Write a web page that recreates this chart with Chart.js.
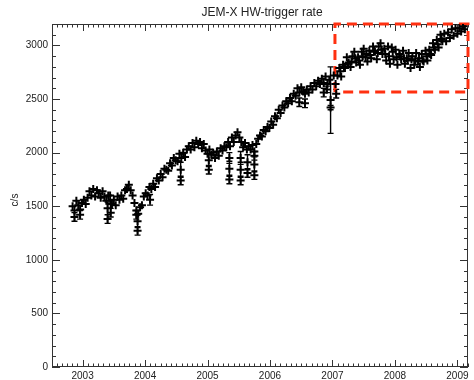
<!DOCTYPE html>
<html>
<head>
<meta charset="utf-8">
<script src="https://cdn.jsdelivr.net/npm/chart.js@4"></script>
<style>
  html, body { margin: 0; padding: 0; background: #fff; }
</style>
</head>
<body>
<canvas id="rateChart" width="474" height="380"></canvas>
<script>
// Time of each measurement (decimal years)
const years = [
  2002.84, 2002.87, 2002.90, 2002.93, 2002.96, 2002.99,
  2003.02, 2003.05, 2003.08, 2003.11, 2003.14, 2003.17, 2003.20, 2003.23, 2003.26, 2003.29, 2003.32,
  2003.35, 2003.38, 2003.41, 2003.44, 2003.47, 2003.50, 2003.53, 2003.56, 2003.59, 2003.62, 2003.65,
  2003.68, 2003.71, 2003.74, 2003.77, 2003.80, 2003.83, 2003.86, 2003.89, 2003.92, 2003.95, 2003.98,
  2004.01, 2004.04, 2004.07, 2004.10, 2004.13, 2004.16, 2004.19, 2004.22, 2004.25, 2004.28, 2004.31,
  2004.34, 2004.37, 2004.40, 2004.43, 2004.46, 2004.49, 2004.52, 2004.55, 2004.58, 2004.61, 2004.64,
  2004.67, 2004.70, 2004.73, 2004.76, 2004.79, 2004.82, 2004.85, 2004.88, 2004.91, 2004.94, 2004.97,
  2005.00, 2005.03, 2005.06, 2005.09, 2005.12, 2005.15, 2005.18, 2005.21, 2005.24, 2005.27, 2005.30,
  2005.33, 2005.36, 2005.39, 2005.42, 2005.45, 2005.48, 2005.51, 2005.54, 2005.57, 2005.60, 2005.63,
  2005.66, 2005.69, 2005.72, 2005.75, 2005.78, 2005.81, 2005.84, 2005.87, 2005.90, 2005.93, 2005.96, 2005.99,
  2006.02, 2006.05, 2006.08, 2006.11, 2006.14, 2006.17, 2006.20, 2006.23, 2006.26, 2006.29, 2006.32,
  2006.35, 2006.38, 2006.41, 2006.44, 2006.47, 2006.50, 2006.53, 2006.56, 2006.59, 2006.62, 2006.65,
  2006.68, 2006.71, 2006.74, 2006.77, 2006.80, 2006.83, 2006.86, 2006.89, 2006.92, 2006.95,
  2007.02, 2007.05, 2007.08, 2007.11, 2007.14, 2007.17, 2007.20, 2007.23, 2007.26, 2007.29, 2007.32,
  2007.35, 2007.38, 2007.41, 2007.44, 2007.47, 2007.50, 2007.53, 2007.56, 2007.59, 2007.62, 2007.65,
  2007.68, 2007.71, 2007.74, 2007.77, 2007.80, 2007.83, 2007.86, 2007.89, 2007.92, 2007.95, 2007.98,
  2008.01, 2008.04, 2008.07, 2008.10, 2008.13, 2008.16, 2008.19, 2008.22, 2008.25, 2008.28, 2008.31,
  2008.34, 2008.37, 2008.40, 2008.43, 2008.46, 2008.49, 2008.52, 2008.55, 2008.58, 2008.61, 2008.64,
  2008.67, 2008.70, 2008.73, 2008.76, 2008.79, 2008.82, 2008.85, 2008.88, 2008.91, 2008.94, 2008.97,
  2009.00, 2009.03, 2009.06, 2009.09, 2009.12,
  // denser coverage 2007-2008
  2007.125, 2007.185, 2007.245, 2007.305, 2007.365, 2007.425, 2007.485, 2007.545, 2007.605, 2007.665,
  2007.725, 2007.785, 2007.845, 2007.905, 2007.965, 2008.025, 2008.085, 2008.145, 2008.205, 2008.265,
  2008.325, 2008.385, 2008.445, 2008.505, 2008.565, 2008.625, 2008.685, 2008.745
];

// HW-trigger rate (c/s)
const rate = [
  1500, 1460, 1550, 1510, 1470, 1530,
  1560, 1520, 1580, 1640, 1600, 1660, 1590, 1650, 1620, 1580, 1640,
  1590, 1550, 1600, 1600, 1520, 1560, 1510, 1590, 1560, 1600, 1570,
  1650, 1660, 1700, 1650, 1600, 1530, 1460, 1430, 1490, 1510, 1590,
  1620, 1600, 1680, 1660, 1710, 1680, 1760, 1740, 1800, 1770, 1850,
  1840, 1830, 1900, 1880, 1950, 1930, 1920, 1990, 1950, 2000, 1960,
  2030, 2060, 2030, 2090, 2050, 2110, 2080, 2100, 2040, 2080, 2020,
  1990, 2030, 1980, 2000, 1950, 2010, 1970, 2040, 2020, 2060, 2050,
  2100, 2060, 2140, 2100, 2160, 2190, 2140, 2100, 2050, 2090, 2030,
  2060, 2030, 2070, 2010, 2080, 2130, 2160, 2150, 2210, 2200, 2240, 2230,
  2290, 2260, 2340, 2320, 2400, 2370, 2440, 2420, 2480, 2460, 2510,
  2480, 2550, 2530, 2600, 2560, 2610, 2570, 2550, 2590, 2560, 2620,
  2590, 2650, 2620, 2670, 2640, 2690, 2650, 2710, 2640, 2680,
  2720, 2640, 2720, 2790, 2710, 2820, 2790, 2890, 2840, 2800, 2900,
  2940, 2840, 2890, 2820, 2940, 2970, 2890, 2850, 2950, 2880, 2990,
  2940, 2870, 2990, 3020, 2920, 2970, 2860, 2990, 2830, 2980, 2870,
  2960, 2820, 2920, 2870, 2950, 2830, 2880, 2930, 2790, 2900, 2820,
  2930, 2850, 2800, 2920, 2850, 2950, 2860, 2960, 2910, 3020, 2960,
  3050, 2980, 3100, 3040, 3110, 3040, 3120, 3070, 3150, 3090, 3160,
  3110, 3160, 3130, 3180, 3150,
  2760, 2800, 2830, 2850, 2880, 2860, 2900, 2920, 2910, 2950,
  2930, 2960, 2920, 2900, 2940, 2890, 2900, 2880, 2860, 2870,
  2860, 2880, 2860, 2900, 2920, 2980, 3010, 3060
];

// Low excursions and the bad point early 2007, drawn with their error bars
const dipYears = [
  2002.87, 2002.96, 2003.40, 2003.40, 2003.45, 2003.45, 2003.86, 2003.88, 2003.88,
  2004.08, 2004.57, 2004.57, 2005.02, 2005.02, 2005.35, 2005.35, 2005.35,
  2005.53, 2005.53, 2005.53, 2005.64, 2005.64, 2005.75, 2005.75, 2005.75,
  2006.47, 2006.56, 2006.86, 2006.91, 2006.97, 2006.97, 2007.06
];
const dipRate = [
  1400, 1420, 1380, 1480, 1440, 1520, 1420, 1270, 1360,
  1560, 1740, 1840, 1840, 1930, 1750, 1850, 1950,
  1740, 1840, 1950, 1810, 1910, 1790, 1890, 1970,
  2470, 2460, 2560, 2590, 2490, 2420, 2550
];
const dipErr = [
  40, 40, 40, 60, 40, 40, 40, 40, 60,
  50, 40, 70, 40, 60, 40, 70, 50,
  40, 70, 60, 40, 70, 40, 70, 40,
  40, 40, 40, 30, 310, 20, 40
];

// Tick labels
const yearTicks = [2003, 2004, 2005, 2006, 2007, 2008, 2009];
const rateTicks = [0, 500, 1000, 1500, 2000, 2500, 3000];

// Zoom box (years, c/s)
const boxYears = [2007.04, 2009.17];
const boxRates = [2565, 3200];

const FONT = 'Liberation Sans';
const INK = '#222';

// IDL-like frame: box on all four sides with inward ticks, plus title and y label
const idlFrame = {
  id: 'idlFrame',
  beforeDatasetsDraw(chart) {
    const { ctx, chartArea: a, scales: { x, y } } = chart;
    ctx.save();
    ctx.strokeStyle = '#333';
    ctx.lineWidth = 1;
    ctx.strokeRect(a.left + 0.5, a.top + 0.5, a.right - a.left - 1, a.bottom - a.top - 1);
    ctx.beginPath();
    // monthly minor ticks, yearly major ticks
    for (let yr = 2002; yr <= 2009; yr++) {
      for (let m = 0; m < 12; m++) {
        const v = yr + m / 12;
        if (v < x.min || v > x.max) continue;
        const px = Math.round(x.getPixelForValue(v)) + 0.5;
        const len = m === 0 ? 7 : 3.5;
        ctx.moveTo(px, a.bottom); ctx.lineTo(px, a.bottom - len);
        ctx.moveTo(px, a.top); ctx.lineTo(px, a.top + len);
      }
    }
    for (let v = 0; v <= y.max; v += 100) {
      const py = Math.round(y.getPixelForValue(v)) + 0.5;
      const len = v % 500 === 0 ? 8 : 4;
      ctx.moveTo(a.left, py); ctx.lineTo(a.left + len, py);
      ctx.moveTo(a.right, py); ctx.lineTo(a.right - len, py);
    }
    ctx.stroke();

    ctx.fillStyle = INK;
    ctx.textAlign = 'center';
    ctx.textBaseline = 'middle';
    ctx.font = `12px "${FONT}"`;
    ctx.fillText('JEM-X HW-trigger rate', (a.left + a.right) / 2 + 2, 13);
    ctx.font = `10px "${FONT}"`;
    ctx.translate(15, 200);
    ctx.rotate(-Math.PI / 2);
    ctx.fillText('c/s', 0, 0);
    ctx.restore();
  }
};

// vertical error bars with small caps for the low excursions
const errorBars = {
  id: 'errorBars',
  beforeDatasetsDraw(chart) {
    const { ctx, scales: { x, y } } = chart;
    ctx.save();
    ctx.strokeStyle = '#000';
    ctx.lineWidth = 1.4;
    ctx.beginPath();
    dipYears.forEach((t, i) => {
      const px = x.getPixelForValue(t);
      const lo = y.getPixelForValue(dipRate[i] - dipErr[i]);
      const hi = y.getPixelForValue(dipRate[i] + dipErr[i]);
      ctx.moveTo(px, lo); ctx.lineTo(px, hi);
      ctx.moveTo(px - 3, lo); ctx.lineTo(px + 3, lo);
      ctx.moveTo(px - 3, hi); ctx.lineTo(px + 3, hi);
    });
    ctx.stroke();
    ctx.restore();
  }
};

const boxPoints = [
  { x: boxYears[0], y: boxRates[0] },
  { x: boxYears[0], y: boxRates[1] },
  { x: boxYears[1], y: boxRates[1] },
  { x: boxYears[1], y: boxRates[0] },
  { x: boxYears[0], y: boxRates[0] }
];

const plusStyle = {
  pointStyle: 'cross',
  pointRadius: 4,
  pointBorderWidth: 2,
  borderColor: '#000',
  backgroundColor: '#000',
  showLine: false,
};

const ctx = document.getElementById('rateChart').getContext('2d');
const rateChart = new Chart(ctx, {
  type: 'scatter',
  data: {
    datasets: [
      {
        label: 'HW-trigger rate',
        data: years.map((t, i) => ({ x: t, y: rate[i] })),
        ...plusStyle,
      },
      {
        label: 'excursions',
        data: dipYears.map((t, i) => ({ x: t, y: dipRate[i] })),
        ...plusStyle,
      },
      {
        label: 'zoom box',
        data: boxPoints,
        showLine: true,
        pointRadius: 0,
        borderColor: '#ff3010',
        borderWidth: 3,
        borderDash: [10, 6],
        tension: 0,
        clip: false,
      }
    ]
  },
  options: {
    responsive: false,
    animation: false,
    devicePixelRatio: 1,
    layout: { padding: { top: 24, right: 1, left: 0, bottom: 0 } },
    plugins: {
      legend: { display: false },
      tooltip: { enabled: false },
    },
    scales: {
      x: {
        type: 'linear',
        min: 2002.51,
        max: 2009.17,
        afterBuildTicks: s => { s.ticks = yearTicks.map(v => ({ value: v })); },
        afterFit: s => { s.height = 13; },
        grid: { display: false, drawTicks: false },
        border: { display: false },
        ticks: {
          autoSkip: false,
          maxRotation: 0,
          padding: 3,
          color: INK,
          font: { family: FONT, size: 10 },
          callback: v => String(v),
        }
      },
      y: {
        min: 0,
        max: 3200,
        afterBuildTicks: s => { s.ticks = rateTicks.map(v => ({ value: v })); },
        afterFit: s => { s.width = 52; },
        grid: { display: false, drawTicks: false },
        border: { display: false },
        ticks: {
          padding: 4,
          color: INK,
          font: { family: FONT, size: 10 },
          callback: v => String(v),
        }
      }
    }
  },
  plugins: [idlFrame, errorBars]
});
</script>
</body>
</html>
